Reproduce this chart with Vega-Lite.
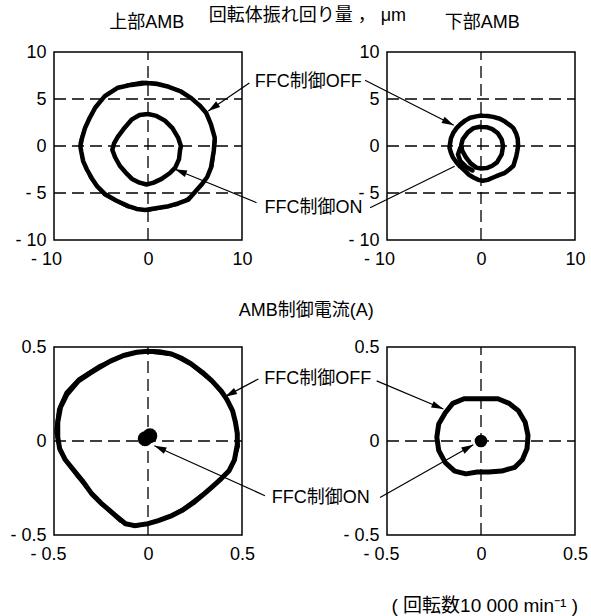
{
  "$schema": "https://vega.github.io/schema/vega-lite/v6.json",
  "padding": {"left": 9, "top": 6, "right": 0, "bottom": 0},
  "background": "white",
  "config": {
    "font": "Liberation Sans, Noto Sans CJK JP",
    "view": {"stroke": "black", "strokeWidth": 1.5},
    "axis": {"domain": false, "ticks": false, "grid": false, "labelFontSize": 18, "labelColor": "black", "labelFont": "Liberation Sans"}
  },
  "columns": 2,
  "spacing": {"row": 107, "column": 145},
  "bounds": "flush",
  "concat": [
    {
      "width": 188, "height": 188,
      "encoding": {
        "x": {"field": "x", "type": "quantitative", "title": null, "scale": {"domain": [-10, 10], "nice": false, "zero": false},
              "axis": {"values": [-10, 0, 10], "labelFlush": false, "labelPadding": 10, "labelOffset": {"condition": {"test": "datum.value < 0", "value": -8}, "value": 0}, "labelExpr": "datum.value < 0 ? '- ' + format(-datum.value, '') : format(datum.value, '')"}},
        "y": {"field": "y", "type": "quantitative", "title": null, "scale": {"domain": [-10, 10], "nice": false, "zero": false},
              "axis": {"values": [-10, -5, 0, 5, 10], "labelPadding": 8, "labelExpr": "datum.value < 0 ? '- ' + format(-datum.value, '') : format(datum.value, '')"}}
      },
      "layer": [
        {
          "data": {"values": [
            {"x": -10, "y": -5, "x2": 10, "y2": -5},
            {"x": -10, "y": 0, "x2": 10, "y2": 0},
            {"x": -10, "y": 5, "x2": 10, "y2": 5},
            {"x": 0, "y": -10, "x2": 0, "y2": 10}
          ]},
          "mark": {"type": "rule", "color": "black", "strokeWidth": 1.3, "strokeDash": [12, 6]},
          "encoding": {"x2": {"field": "x2"}, "y2": {"field": "y2"}}
        },
        {
          "data": {"values": [
            {"s": "OFF", "i": 0, "x": -0.15, "y": 6.7}, {"s": "OFF", "i": 1, "x": 1.0, "y": 6.6}, {"s": "OFF", "i": 2, "x": 2.2, "y": 6.3},
            {"s": "OFF", "i": 3, "x": 3.5, "y": 5.8}, {"s": "OFF", "i": 4, "x": 4.6, "y": 5.1}, {"s": "OFF", "i": 5, "x": 5.5, "y": 4.3},
            {"s": "OFF", "i": 6, "x": 6.2, "y": 3.5}, {"s": "OFF", "i": 7, "x": 6.7, "y": 2.3}, {"s": "OFF", "i": 8, "x": 7.1, "y": 0.9},
            {"s": "OFF", "i": 9, "x": 7.0, "y": -0.5}, {"s": "OFF", "i": 10, "x": 6.7, "y": -2.3}, {"s": "OFF", "i": 11, "x": 6.3, "y": -3.3},
            {"s": "OFF", "i": 12, "x": 5.7, "y": -4.1}, {"s": "OFF", "i": 13, "x": 4.3, "y": -5.7}, {"s": "OFF", "i": 14, "x": 3.2, "y": -6.1},
            {"s": "OFF", "i": 15, "x": 2.2, "y": -6.4}, {"s": "OFF", "i": 16, "x": 1.0, "y": -6.6}, {"s": "OFF", "i": 17, "x": -0.3, "y": -6.8},
            {"s": "OFF", "i": 18, "x": -1.2, "y": -6.7}, {"s": "OFF", "i": 19, "x": -2.1, "y": -6.4}, {"s": "OFF", "i": 20, "x": -3.4, "y": -5.8},
            {"s": "OFF", "i": 21, "x": -4.6, "y": -5.1}, {"s": "OFF", "i": 22, "x": -5.4, "y": -4.3}, {"s": "OFF", "i": 23, "x": -6.0, "y": -3.4},
            {"s": "OFF", "i": 24, "x": -6.5, "y": -2.5}, {"s": "OFF", "i": 25, "x": -6.9, "y": -1.6}, {"s": "OFF", "i": 26, "x": -7.1, "y": -0.6},
            {"s": "OFF", "i": 27, "x": -7.2, "y": 0.0}, {"s": "OFF", "i": 28, "x": -7.0, "y": 0.9}, {"s": "OFF", "i": 29, "x": -6.7, "y": 1.9},
            {"s": "OFF", "i": 30, "x": -6.2, "y": 3.0}, {"s": "OFF", "i": 31, "x": -5.6, "y": 4.1}, {"s": "OFF", "i": 32, "x": -4.6, "y": 5.3},
            {"s": "OFF", "i": 33, "x": -3.2, "y": 6.2}, {"s": "OFF", "i": 34, "x": -1.8, "y": 6.5}, {"s": "OFF", "i": 35, "x": -0.15, "y": 6.7},
            {"s": "ON", "i": 0, "x": 0.0, "y": 3.4}, {"s": "ON", "i": 1, "x": 0.9, "y": 3.2}, {"s": "ON", "i": 2, "x": 1.8, "y": 2.7},
            {"s": "ON", "i": 3, "x": 2.6, "y": 1.9}, {"s": "ON", "i": 4, "x": 3.2, "y": 0.9}, {"s": "ON", "i": 5, "x": 3.5, "y": 0.0},
            {"s": "ON", "i": 6, "x": 3.4, "y": -0.5}, {"s": "ON", "i": 7, "x": 3.3, "y": -1.4}, {"s": "ON", "i": 8, "x": 2.9, "y": -2.3},
            {"s": "ON", "i": 9, "x": 2.3, "y": -2.9}, {"s": "ON", "i": 10, "x": 1.45, "y": -3.5}, {"s": "ON", "i": 11, "x": 0.6, "y": -3.9},
            {"s": "ON", "i": 12, "x": -0.15, "y": -4.1}, {"s": "ON", "i": 13, "x": -0.9, "y": -3.9}, {"s": "ON", "i": 14, "x": -1.7, "y": -3.5},
            {"s": "ON", "i": 15, "x": -2.4, "y": -2.8}, {"s": "ON", "i": 16, "x": -3.0, "y": -2.1}, {"s": "ON", "i": 17, "x": -3.5, "y": -1.2},
            {"s": "ON", "i": 18, "x": -3.8, "y": -0.4}, {"s": "ON", "i": 19, "x": -3.6, "y": 0.3}, {"s": "ON", "i": 20, "x": -3.2, "y": 1.0},
            {"s": "ON", "i": 21, "x": -2.6, "y": 1.8}, {"s": "ON", "i": 22, "x": -1.75, "y": 2.8}, {"s": "ON", "i": 23, "x": -0.9, "y": 3.3},
            {"s": "ON", "i": 24, "x": 0.0, "y": 3.4}
          ]},
          "mark": {"type": "line", "color": "black", "strokeWidth": 4.5, "strokeJoin": "round", "strokeCap": "round"},
          "encoding": {"detail": {"field": "s"}, "order": {"field": "i", "type": "quantitative"}}
        },
        {
          "data": {"values": [
            {"s": "OFF2", "i": 0, "x": -0.6, "y": 6.9}, {"s": "OFF2", "i": 1, "x": 1.0, "y": 6.75}, {"s": "OFF2", "i": 2, "x": 3.5, "y": 5.95},
            {"s": "OFF2", "i": 3, "x": 5.6, "y": 4.4}, {"s": "OFF2", "i": 4, "x": 6.6, "y": 2.5}, {"s": "OFF2", "i": 5, "x": 7.25, "y": 0.6},
            {"s": "OFF2", "i": 6, "x": 6.9, "y": -2.2}, {"s": "OFF2", "i": 7, "x": 5.8, "y": -4.2}, {"s": "OFF2", "i": 8, "x": 3.2, "y": -6.3},
            {"s": "OFF2", "i": 9, "x": 0.0, "y": -6.95}, {"s": "OFF2", "i": 10, "x": -2.2, "y": -6.55}, {"s": "OFF2", "i": 11, "x": -4.7, "y": -5.25},
            {"s": "OFF2", "i": 12, "x": -6.2, "y": -3.4}, {"s": "OFF2", "i": 13, "x": -7.1, "y": -1.2}, {"s": "OFF2", "i": 14, "x": -7.3, "y": 0.4},
            {"s": "OFF2", "i": 15, "x": -6.8, "y": 2.0}, {"s": "OFF2", "i": 16, "x": -5.7, "y": 4.2}, {"s": "OFF2", "i": 17, "x": -4.2, "y": 5.7},
            {"s": "OFF2", "i": 18, "x": -2.2, "y": 6.6}, {"s": "OFF2", "i": 19, "x": -0.6, "y": 6.9}
          ]},
          "mark": {"type": "line", "color": "black", "strokeWidth": 1.5, "strokeJoin": "round"},
          "encoding": {"detail": {"field": "s"}, "order": {"field": "i", "type": "quantitative"}}
        },
        {
          "data": {"values": [
            {"x": 10.78, "y": 6.7, "x2": 6.41, "y2": 3.72},
            {"x": 11.55, "y": -6.03, "x2": 2.87, "y2": -2.48}
          ]},
          "mark": {"type": "rule", "color": "black", "strokeWidth": 1.2},
          "encoding": {"x2": {"field": "x2"}, "y2": {"field": "y2"}}
        },
        {
          "data": {"values": [{"x": 6.41, "y": 3.72}]},
          "mark": {"type": "point", "shape": "M0,0L0.35,1.2L-0.35,1.2Z", "filled": true, "color": "black", "opacity": 1, "size": 400, "angle": 235}
        },
        {
          "data": {"values": [{"x": 2.87, "y": -2.48}]},
          "mark": {"type": "point", "shape": "M0,0L0.35,1.2L-0.35,1.2Z", "filled": true, "color": "black", "opacity": 1, "size": 400, "angle": 292}
        },
        {
          "data": {"values": [
            {"x": 17.05, "y": 6.84, "t": "FFC制御OFF"},
            {"x": 17.6, "y": -6.56, "t": "FFC制御ON"},
            {"x": -0.13, "y": 13.09, "t": "上部AMB"},
            {"x": 16.95, "y": 13.83, "t": "回転体振れ回り量 ， μm"}
          ]},
          "mark": {"type": "text", "fontSize": 18, "color": "black", "align": "center", "baseline": "middle"},
          "encoding": {"text": {"field": "t"}}
        }
      ]
    },
    {
      "width": 188, "height": 188,
      "encoding": {
        "x": {"field": "x", "type": "quantitative", "title": null, "scale": {"domain": [-10, 10], "nice": false, "zero": false},
              "axis": {"values": [-10, 0, 10], "labelFlush": false, "labelPadding": 10, "labelOffset": {"condition": {"test": "datum.value < 0", "value": -8}, "value": 0}, "labelExpr": "datum.value < 0 ? '- ' + format(-datum.value, '') : format(datum.value, '')"}},
        "y": {"field": "y", "type": "quantitative", "title": null, "scale": {"domain": [-10, 10], "nice": false, "zero": false},
              "axis": {"values": [-10, -5, 0, 5, 10], "labelPadding": 8, "labelExpr": "datum.value < 0 ? '- ' + format(-datum.value, '') : format(datum.value, '')"}}
      },
      "layer": [
        {
          "data": {"values": [
            {"x": -10, "y": -5, "x2": 10, "y2": -5},
            {"x": -10, "y": 0, "x2": 10, "y2": 0},
            {"x": -10, "y": 5, "x2": 10, "y2": 5},
            {"x": 0, "y": -10, "x2": 0, "y2": 10}
          ]},
          "mark": {"type": "rule", "color": "black", "strokeWidth": 1.3, "strokeDash": [12, 6]},
          "encoding": {"x2": {"field": "x2"}, "y2": {"field": "y2"}}
        },
        {
          "data": {"values": [
            {"s": "OFF", "i": 0, "x": 0.07, "y": 3.25}, {"s": "OFF", "i": 1, "x": 0.7, "y": 3.2}, {"s": "OFF", "i": 2, "x": 1.3, "y": 3.1},
            {"s": "OFF", "i": 3, "x": 2.0, "y": 2.9}, {"s": "OFF", "i": 4, "x": 2.55, "y": 2.6}, {"s": "OFF", "i": 5, "x": 3.1, "y": 2.2},
            {"s": "OFF", "i": 6, "x": 3.45, "y": 1.9}, {"s": "OFF", "i": 7, "x": 3.75, "y": 1.3}, {"s": "OFF", "i": 8, "x": 3.9, "y": 0.8},
            {"s": "OFF", "i": 9, "x": 3.95, "y": 0.0}, {"s": "OFF", "i": 10, "x": 3.85, "y": -0.6}, {"s": "OFF", "i": 11, "x": 3.75, "y": -1.1},
            {"s": "OFF", "i": 12, "x": 3.45, "y": -2.1}, {"s": "OFF", "i": 13, "x": 3.0, "y": -2.5}, {"s": "OFF", "i": 14, "x": 2.55, "y": -2.85},
            {"s": "OFF", "i": 15, "x": 1.9, "y": -3.1}, {"s": "OFF", "i": 16, "x": 1.3, "y": -3.35}, {"s": "OFF", "i": 17, "x": 0.7, "y": -3.6},
            {"s": "OFF", "i": 18, "x": 0.2, "y": -3.7}, {"s": "OFF", "i": 19, "x": -0.3, "y": -3.6}, {"s": "OFF", "i": 20, "x": -0.8, "y": -3.35},
            {"s": "OFF", "i": 21, "x": -1.3, "y": -3.05}, {"s": "OFF", "i": 22, "x": -1.7, "y": -2.65}, {"s": "OFF", "i": 23, "x": -2.2, "y": -2.2},
            {"s": "OFF", "i": 24, "x": -2.6, "y": -1.75}, {"s": "OFF", "i": 25, "x": -3.0, "y": -1.2}, {"s": "OFF", "i": 26, "x": -3.2, "y": -0.7},
            {"s": "OFF", "i": 27, "x": -3.35, "y": -0.2}, {"s": "OFF", "i": 28, "x": -3.3, "y": 0.2}, {"s": "OFF", "i": 29, "x": -3.2, "y": 0.8},
            {"s": "OFF", "i": 30, "x": -2.95, "y": 1.4}, {"s": "OFF", "i": 31, "x": -2.6, "y": 1.9}, {"s": "OFF", "i": 32, "x": -2.2, "y": 2.3},
            {"s": "OFF", "i": 33, "x": -1.7, "y": 2.7}, {"s": "OFF", "i": 34, "x": -1.15, "y": 3.0}, {"s": "OFF", "i": 35, "x": -0.5, "y": 3.15},
            {"s": "OFF", "i": 36, "x": 0.07, "y": 3.25},
            {"s": "ON", "i": 0, "x": -0.1, "y": 2.05}, {"s": "ON", "i": 1, "x": 0.6, "y": 2.0}, {"s": "ON", "i": 2, "x": 1.2, "y": 1.8},
            {"s": "ON", "i": 3, "x": 1.8, "y": 1.35}, {"s": "ON", "i": 4, "x": 2.2, "y": 0.7}, {"s": "ON", "i": 5, "x": 2.35, "y": 0.0},
            {"s": "ON", "i": 6, "x": 2.2, "y": -0.9}, {"s": "ON", "i": 7, "x": 1.7, "y": -1.75}, {"s": "ON", "i": 8, "x": 1.2, "y": -2.1},
            {"s": "ON", "i": 9, "x": 0.6, "y": -2.35}, {"s": "ON", "i": 10, "x": 0.0, "y": -2.4}, {"s": "ON", "i": 11, "x": -0.5, "y": -2.3},
            {"s": "ON", "i": 12, "x": -1.1, "y": -1.85}, {"s": "ON", "i": 13, "x": -1.6, "y": -1.2}, {"s": "ON", "i": 14, "x": -2.0, "y": -0.5},
            {"s": "ON", "i": 15, "x": -2.1, "y": 0.1}, {"s": "ON", "i": 16, "x": -1.95, "y": 0.7},
            {"s": "ON", "i": 17, "x": -1.4, "y": 1.45}, {"s": "ON", "i": 18, "x": -0.8, "y": 1.9}, {"s": "ON", "i": 19, "x": -0.1, "y": 2.05},
            {"s": "ON2", "i": 0, "x": -2.2, "y": -0.2}, {"s": "ON2", "i": 1, "x": -2.45, "y": -0.9}, {"s": "ON2", "i": 2, "x": -2.2, "y": -1.6},
            {"s": "ON2", "i": 3, "x": -1.6, "y": -2.2}, {"s": "ON2", "i": 4, "x": -0.9, "y": -2.6}
          ]},
          "mark": {"type": "line", "color": "black", "strokeWidth": 4.5, "strokeJoin": "round", "strokeCap": "round"},
          "encoding": {"detail": {"field": "s"}, "order": {"field": "i", "type": "quantitative"}}
        },
        {
          "data": {"values": [
            {"x": -12.34, "y": 6.99, "x2": -2.9, "y2": 2.2},
            {"x": -11.8, "y": -6.56, "x2": -2.8, "y2": -2.15}
          ]},
          "mark": {"type": "rule", "color": "black", "strokeWidth": 1.2},
          "encoding": {"x2": {"field": "x2"}, "y2": {"field": "y2"}}
        },
        {
          "data": {"values": [{"x": -2.9, "y": 2.2}]},
          "mark": {"type": "point", "shape": "M0,0L0.35,1.2L-0.35,1.2Z", "filled": true, "color": "black", "opacity": 1, "size": 400, "angle": 117}
        },
        {
          "data": {"values": [{"x": 0.14, "y": 13.09, "t": "下部AMB"}]},
          "mark": {"type": "text", "fontSize": 18, "color": "black", "align": "center", "baseline": "middle"},
          "encoding": {"text": {"field": "t"}}
        }
      ]
    },
    {
      "width": 188, "height": 188,
      "encoding": {
        "x": {"field": "x", "type": "quantitative", "title": null, "scale": {"domain": [-0.5, 0.5], "nice": false, "zero": false},
              "axis": {"values": [-0.5, 0, 0.5], "labelFlush": false, "labelPadding": 10, "labelOffset": {"condition": {"test": "datum.value < 0", "value": -6}, "value": 0}, "labelExpr": "datum.value < 0 ? '- ' + format(-datum.value, '') : format(datum.value, '')"}},
        "y": {"field": "y", "type": "quantitative", "title": null, "scale": {"domain": [-0.5, 0.5], "nice": false, "zero": false},
              "axis": {"values": [-0.5, 0, 0.5], "labelPadding": 8, "labelExpr": "datum.value < 0 ? '- ' + format(-datum.value, '') : format(datum.value, '')"}}
      },
      "layer": [
        {
          "data": {"values": [
            {"x": -0.5, "y": 0, "x2": 0.5, "y2": 0},
            {"x": 0, "y": -0.5, "x2": 0, "y2": 0.5}
          ]},
          "mark": {"type": "rule", "color": "black", "strokeWidth": 1.3, "strokeDash": [12, 6]},
          "encoding": {"x2": {"field": "x2"}, "y2": {"field": "y2"}}
        },
        {
          "data": {"values": [
            {"s": "OFF", "i": 0, "x": 0.0, "y": 0.477}, {"s": "OFF", "i": 1, "x": 0.06, "y": 0.475}, {"s": "OFF", "i": 2, "x": 0.125, "y": 0.463},
            {"s": "OFF", "i": 3, "x": 0.18, "y": 0.44}, {"s": "OFF", "i": 4, "x": 0.23, "y": 0.41}, {"s": "OFF", "i": 5, "x": 0.29, "y": 0.365},
            {"s": "OFF", "i": 6, "x": 0.34, "y": 0.32}, {"s": "OFF", "i": 7, "x": 0.39, "y": 0.265}, {"s": "OFF", "i": 8, "x": 0.42, "y": 0.22},
            {"s": "OFF", "i": 9, "x": 0.45, "y": 0.16}, {"s": "OFF", "i": 10, "x": 0.465, "y": 0.1}, {"s": "OFF", "i": 11, "x": 0.475, "y": 0.04},
            {"s": "OFF", "i": 12, "x": 0.475, "y": -0.02}, {"s": "OFF", "i": 13, "x": 0.46, "y": -0.1}, {"s": "OFF", "i": 14, "x": 0.43, "y": -0.16},
            {"s": "OFF", "i": 15, "x": 0.39, "y": -0.2}, {"s": "OFF", "i": 16, "x": 0.34, "y": -0.245}, {"s": "OFF", "i": 17, "x": 0.3, "y": -0.28},
            {"s": "OFF", "i": 18, "x": 0.24, "y": -0.33}, {"s": "OFF", "i": 19, "x": 0.18, "y": -0.37}, {"s": "OFF", "i": 20, "x": 0.12, "y": -0.4},
            {"s": "OFF", "i": 21, "x": 0.055, "y": -0.424}, {"s": "OFF", "i": 22, "x": 0.0, "y": -0.44}, {"s": "OFF", "i": 23, "x": -0.07, "y": -0.45},
            {"s": "OFF", "i": 24, "x": -0.12, "y": -0.44}, {"s": "OFF", "i": 25, "x": -0.18, "y": -0.39}, {"s": "OFF", "i": 26, "x": -0.25, "y": -0.33},
            {"s": "OFF", "i": 27, "x": -0.3, "y": -0.28}, {"s": "OFF", "i": 28, "x": -0.35, "y": -0.21}, {"s": "OFF", "i": 29, "x": -0.4, "y": -0.15},
            {"s": "OFF", "i": 30, "x": -0.44, "y": -0.1}, {"s": "OFF", "i": 31, "x": -0.47, "y": -0.04}, {"s": "OFF", "i": 32, "x": -0.48, "y": 0.02},
            {"s": "OFF", "i": 33, "x": -0.48, "y": 0.1}, {"s": "OFF", "i": 34, "x": -0.465, "y": 0.18}, {"s": "OFF", "i": 35, "x": -0.43, "y": 0.25},
            {"s": "OFF", "i": 36, "x": -0.37, "y": 0.32}, {"s": "OFF", "i": 37, "x": -0.31, "y": 0.36}, {"s": "OFF", "i": 38, "x": -0.26, "y": 0.39},
            {"s": "OFF", "i": 39, "x": -0.2, "y": 0.425}, {"s": "OFF", "i": 40, "x": -0.13, "y": 0.455}, {"s": "OFF", "i": 41, "x": -0.06, "y": 0.472},
            {"s": "OFF", "i": 42, "x": 0.0, "y": 0.477}
          ]},
          "mark": {"type": "line", "color": "black", "strokeWidth": 5, "strokeJoin": "round", "strokeCap": "round"},
          "encoding": {"detail": {"field": "s"}, "order": {"field": "i", "type": "quantitative"}}
        },
        {
          "data": {"values": [
            {"s": "OFF2", "i": 0, "x": 0.0, "y": 0.47}, {"s": "OFF2", "i": 1, "x": 0.125, "y": 0.455}, {"s": "OFF2", "i": 2, "x": 0.23, "y": 0.4},
            {"s": "OFF2", "i": 3, "x": 0.34, "y": 0.31}, {"s": "OFF2", "i": 4, "x": 0.42, "y": 0.215}, {"s": "OFF2", "i": 5, "x": 0.47, "y": 0.1},
            {"s": "OFF2", "i": 6, "x": 0.485, "y": -0.03}, {"s": "OFF2", "i": 7, "x": 0.46, "y": -0.11}, {"s": "OFF2", "i": 8, "x": 0.4, "y": -0.19},
            {"s": "OFF2", "i": 9, "x": 0.3, "y": -0.27}, {"s": "OFF2", "i": 10, "x": 0.18, "y": -0.36}, {"s": "OFF2", "i": 11, "x": 0.05, "y": -0.43},
            {"s": "OFF2", "i": 12, "x": -0.07, "y": -0.46}, {"s": "OFF2", "i": 13, "x": -0.15, "y": -0.43}, {"s": "OFF2", "i": 14, "x": -0.27, "y": -0.32},
            {"s": "OFF2", "i": 15, "x": -0.38, "y": -0.19}, {"s": "OFF2", "i": 16, "x": -0.47, "y": -0.06}, {"s": "OFF2", "i": 17, "x": -0.495, "y": 0.05},
            {"s": "OFF2", "i": 18, "x": -0.48, "y": 0.17}, {"s": "OFF2", "i": 19, "x": -0.44, "y": 0.26}, {"s": "OFF2", "i": 20, "x": -0.37, "y": 0.335},
            {"s": "OFF2", "i": 21, "x": -0.26, "y": 0.405}, {"s": "OFF2", "i": 22, "x": -0.13, "y": 0.462}, {"s": "OFF2", "i": 23, "x": 0.0, "y": 0.47}
          ]},
          "mark": {"type": "line", "color": "black", "strokeWidth": 1.5, "strokeJoin": "round"},
          "encoding": {"detail": {"field": "s"}, "order": {"field": "i", "type": "quantitative"}}
        },
        {
          "data": {"values": [{"x": -0.015, "y": 0.012}, {"x": 0.01, "y": 0.028}]},
          "mark": {"type": "point", "shape": "circle", "filled": true, "color": "black", "opacity": 1, "size": 220}
        },
        {
          "data": {"values": [
            {"x": 0.587, "y": 0.33, "x2": 0.41, "y2": 0.236},
            {"x": 0.622, "y": -0.291, "x2": 0.034, "y2": -0.025}
          ]},
          "mark": {"type": "rule", "color": "black", "strokeWidth": 1.2},
          "encoding": {"x2": {"field": "x2"}, "y2": {"field": "y2"}}
        },
        {
          "data": {"values": [{"x": 0.41, "y": 0.236}]},
          "mark": {"type": "point", "shape": "M0,0L0.35,1.2L-0.35,1.2Z", "filled": true, "color": "black", "opacity": 1, "size": 400, "angle": 242}
        },
        {
          "data": {"values": [{"x": 0.034, "y": -0.025}]},
          "mark": {"type": "point", "shape": "M0,0L0.35,1.2L-0.35,1.2Z", "filled": true, "color": "black", "opacity": 1, "size": 400, "angle": 294}
        },
        {
          "data": {"values": [
            {"x": 0.903, "y": 0.331, "t": "FFC制御OFF"},
            {"x": 0.919, "y": -0.302, "t": "FFC制御ON"},
            {"x": 0.842, "y": 0.693, "t": "AMB制御電流(A)"}
          ]},
          "mark": {"type": "text", "fontSize": 18, "color": "black", "align": "center", "baseline": "middle"},
          "encoding": {"text": {"field": "t"}}
        }
      ]
    },
    {
      "width": 188, "height": 188,
      "encoding": {
        "x": {"field": "x", "type": "quantitative", "title": null, "scale": {"domain": [-0.5, 0.5], "nice": false, "zero": false},
              "axis": {"values": [-0.5, 0, 0.5], "labelFlush": false, "labelPadding": 10, "labelOffset": {"condition": {"test": "datum.value < 0", "value": -6}, "value": 0}, "labelExpr": "datum.value < 0 ? '- ' + format(-datum.value, '') : format(datum.value, '')"}},
        "y": {"field": "y", "type": "quantitative", "title": null, "scale": {"domain": [-0.5, 0.5], "nice": false, "zero": false},
              "axis": {"values": [-0.5, 0, 0.5], "labelPadding": 8, "labelExpr": "datum.value < 0 ? '- ' + format(-datum.value, '') : format(datum.value, '')"}}
      },
      "layer": [
        {
          "data": {"values": [
            {"x": -0.5, "y": 0, "x2": 0.5, "y2": 0},
            {"x": 0, "y": -0.5, "x2": 0, "y2": 0.5}
          ]},
          "mark": {"type": "rule", "color": "black", "strokeWidth": 1.3, "strokeDash": [12, 6]},
          "encoding": {"x2": {"field": "x2"}, "y2": {"field": "y2"}}
        },
        {
          "data": {"values": [
            {"s": "OFF", "i": 0, "x": 0.0, "y": 0.225}, {"s": "OFF", "i": 1, "x": 0.09, "y": 0.225}, {"s": "OFF", "i": 2, "x": 0.15, "y": 0.2},
            {"s": "OFF", "i": 3, "x": 0.2, "y": 0.16}, {"s": "OFF", "i": 4, "x": 0.235, "y": 0.1}, {"s": "OFF", "i": 5, "x": 0.25, "y": 0.03},
            {"s": "OFF", "i": 6, "x": 0.245, "y": -0.04}, {"s": "OFF", "i": 7, "x": 0.22, "y": -0.1}, {"s": "OFF", "i": 8, "x": 0.18, "y": -0.14},
            {"s": "OFF", "i": 9, "x": 0.11, "y": -0.16}, {"s": "OFF", "i": 10, "x": 0.04, "y": -0.165}, {"s": "OFF", "i": 11, "x": -0.02, "y": -0.165},
            {"s": "OFF", "i": 12, "x": -0.08, "y": -0.175}, {"s": "OFF", "i": 13, "x": -0.14, "y": -0.16}, {"s": "OFF", "i": 14, "x": -0.19, "y": -0.115},
            {"s": "OFF", "i": 15, "x": -0.225, "y": -0.05}, {"s": "OFF", "i": 16, "x": -0.235, "y": 0.02}, {"s": "OFF", "i": 17, "x": -0.225, "y": 0.09},
            {"s": "OFF", "i": 18, "x": -0.19, "y": 0.15}, {"s": "OFF", "i": 19, "x": -0.15, "y": 0.2}, {"s": "OFF", "i": 20, "x": -0.09, "y": 0.225},
            {"s": "OFF", "i": 21, "x": 0.0, "y": 0.225}
          ]},
          "mark": {"type": "line", "color": "black", "strokeWidth": 5, "strokeJoin": "round", "strokeCap": "round"},
          "encoding": {"detail": {"field": "s"}, "order": {"field": "i", "type": "quantitative"}}
        },
        {
          "data": {"values": [{"x": 0.0, "y": 0.0}]},
          "mark": {"type": "point", "shape": "circle", "filled": true, "color": "black", "opacity": 1, "size": 160}
        },
        {
          "data": {"values": [
            {"x": -0.555, "y": 0.32, "x2": -0.2, "y2": 0.17},
            {"x": -0.537, "y": -0.3, "x2": -0.041, "y2": -0.02}
          ]},
          "mark": {"type": "rule", "color": "black", "strokeWidth": 1.2},
          "encoding": {"x2": {"field": "x2"}, "y2": {"field": "y2"}}
        },
        {
          "data": {"values": [{"x": -0.2, "y": 0.17}]},
          "mark": {"type": "point", "shape": "M0,0L0.35,1.2L-0.35,1.2Z", "filled": true, "color": "black", "opacity": 1, "size": 400, "angle": 113}
        },
        {
          "data": {"values": [{"x": -0.041, "y": -0.02}]},
          "mark": {"type": "point", "shape": "M0,0L0.35,1.2L-0.35,1.2Z", "filled": true, "color": "black", "opacity": 1, "size": 400, "angle": 60.5}
        },
        {
          "data": {"values": [{"x": 0.02, "y": -0.876, "t": "( 回転数10 000 min⁻¹ )"}]},
          "mark": {"type": "text", "fontSize": 19, "color": "black", "align": "center", "baseline": "middle"},
          "encoding": {"text": {"field": "t"}}
        }
      ]
    }
  ]
}
